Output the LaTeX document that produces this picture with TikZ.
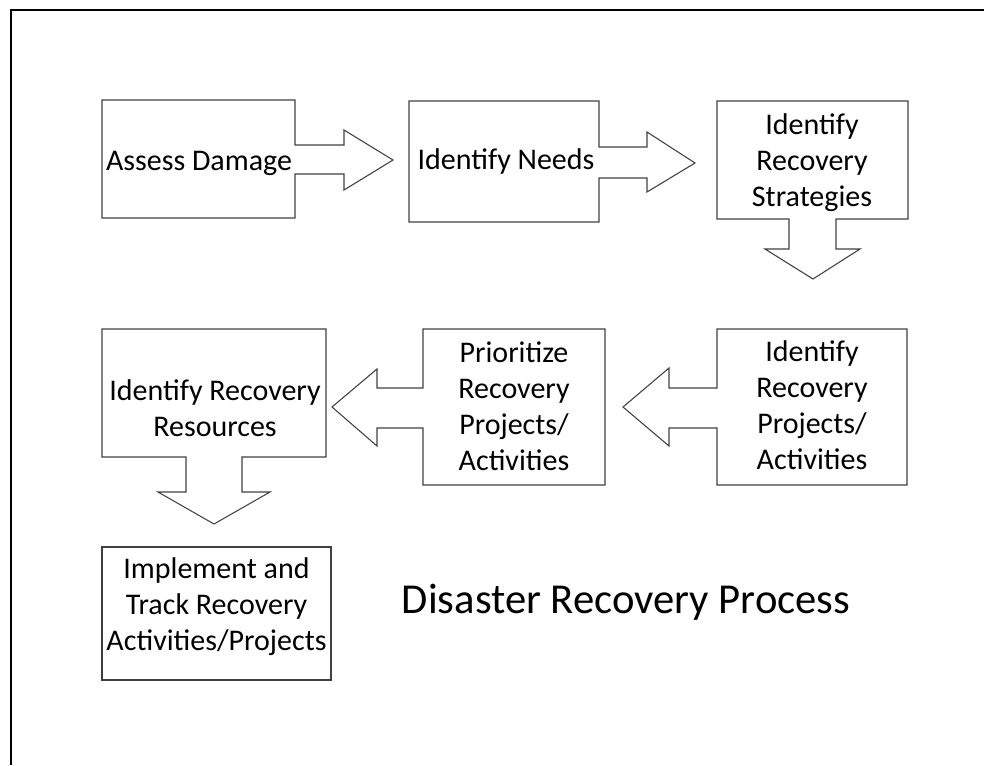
\documentclass[tikz,border=0pt]{standalone}
\usepackage{fontspec}
\setmainfont{Carlito}
\begin{document}
\begin{tikzpicture}[x=0.75pt,y=-0.75pt,line join=miter,
 callout/.style={draw=black!75,line width=0.8pt},
 steptext/.style={align=center,inner sep=0pt,font=\fontsize{22.5}{27}\selectfont}]
 \useasboundingbox (0,0) rectangle (984,765);
 % slide frame
 \draw[line width=1.6pt] (11,765) -- (11,10) -- (984,10);
 % first row
 \draw[callout] (102,100) -- (295,100) -- (295,145) -- (344,145) -- (344,130) -- (393,160) -- (344,190) -- (344,174) -- (295,174) -- (295,218) -- (102,218) -- cycle;
 \draw[callout] (409,101) -- (599,101) -- (599,147) -- (647,147) -- (647,132) -- (695,163) -- (647,192) -- (647,178) -- (599,178) -- (599,222) -- (409,222) -- cycle;
 \draw[callout] (717,101) -- (908,101) -- (908,219) -- (836,219) -- (836,249) -- (860,249) -- (813,279) -- (765,249) -- (789,249) -- (789,219) -- (717,219) -- cycle;
 \node[steptext] (assess) at (199,162.8) {\strut Assess Damage};
 \node[steptext] (needs) at (506,161.8) {\strut Identify Needs};
 \node[steptext] (strategies) at (812,162.8) {\strut Identify\\\strut Recovery\\\strut Strategies};
 % second row
 \draw[callout] (717,329) -- (907,329) -- (907,485) -- (717,485) -- (717,428) -- (669,428) -- (669,446) -- (623,407) -- (669,368) -- (669,388) -- (717,388) -- cycle;
 \draw[callout] (423,329) -- (605,329) -- (605,485) -- (423,485) -- (423,428) -- (377,428) -- (377,446) -- (332,407) -- (377,369) -- (377,388) -- (423,388) -- cycle;
 \draw[callout] (102,329) -- (326,329) -- (326,457) -- (242,457) -- (242,492) -- (270,492) -- (214,524) -- (158,492) -- (186,492) -- (186,457) -- (102,457) -- cycle;
 \node[steptext] (projects) at (812,407.8) {\strut Identify\\\strut Recovery\\\strut Projects/\\\strut Activities};
 \node[steptext] (prioritize) at (514,408.8) {\strut Prioritize\\\strut Recovery\\\strut Projects/\\\strut Activities};
 \node[steptext] (resources) at (215,410.8) {\strut Identify Recovery\\\strut Resources};
 % last step
 \draw[callout] (102,547) rectangle (331,680);
 \node[steptext] (implement) at (216.5,606.8) {\strut Implement and\\\strut Track Recovery\\\strut Activities/Projects};
 \node[anchor=base,inner sep=0pt,font=\fontsize{32}{38}\selectfont] (title) at (626,613) {Disaster Recovery Process};
\end{tikzpicture}
\end{document}
